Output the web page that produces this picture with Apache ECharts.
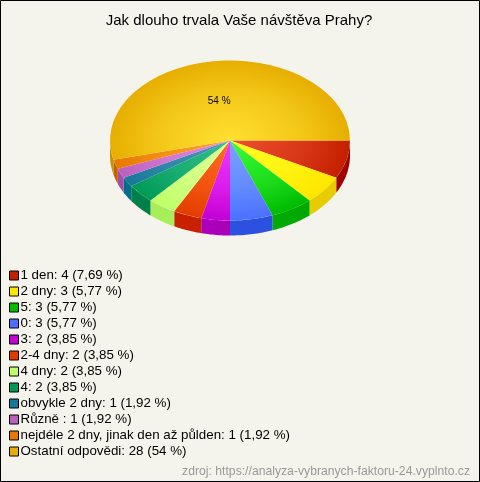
<!DOCTYPE html>
<html><head><meta charset="utf-8">
<style>html,body{margin:0;padding:0;background:#f5f4ec}#c{width:480px;height:482px}</style>
<script src="https://cdn.jsdelivr.net/npm/echarts@6/dist/echarts.min.js"></script>
</head><body><div id="c"></div>
<script>
const titleText = 'Jak dlouho trvala Vaše návštěva Prahy?';
const sourceText = 'zdroj: https://analyza-vybranych-faktoru-24.vyplnto.cz';
const categories = ['1 den','2 dny','5','0','3','2-4 dny','4 dny','4','obvykle 2 dny','Různě ','nejdéle 2 dny, jinak den až půlden','Ostatní odpovědi'];
const values = [4,3,3,3,2,2,2,2,1,1,1,28];
const shares = ['7,69 %','5,77 %','5,77 %','5,77 %','3,85 %','3,85 %','3,85 %','3,85 %','1,92 %','1,92 %','1,92 %','54 %'];
const swatch = ['#c42000','#ffe600','#00bb00','#4a70ff','#c400d4','#e43c00','#c0ff6a','#009a58','#16789a','#bc60c0','#e87800','#e6ae00'];
const inner  = ['#ee5030','#ffff20','#38ff38','#7ca4ff','#f038ff','#ff6c20','#e0ff98','#30c088','#4898b4','#e488e4','#ffa428','#ffe030'];
const wall   = ['#a00000','#e6cc00','#00aa00','#2c50e0','#aa00bb','#c82000','#a8ee58','#008048','#006f8c','#a050a4','#c46000','#c49400'];

const total = values.reduce((a,b)=>a+b,0);
const cx=230, cy=140.5, rx=120, ry=80, depth=15;
const names = categories.map((c,i)=>c+': '+values[i]+' ('+shares[i]+')');

function renderSlice(params, api){
  const idx = params.seriesIndex;
  let before = 0;
  for(let i=0;i<idx;i++) before += values[i];
  const a0 = before/total*Math.PI*2;
  const a1 = (before+api.value(0))/total*Math.PI*2;
  const children = [];
  const wa0 = Math.max(a0,0), wa1 = Math.min(a1,Math.PI);
  if(wa1>wa0){
    const top=[],bot=[];
    const steps = Math.max(2,Math.ceil((wa1-wa0)/0.02));
    for(let s=0;s<=steps;s++){
      const t=wa0+(wa1-wa0)*s/steps;
      const x=cx+rx*Math.cos(t), y=cy+ry*Math.sin(t);
      top.push([x,y]); bot.unshift([x,y+depth]);
    }
    children.push({type:'polygon',shape:{points:top.concat(bot)},style:{fill:wall[idx]}});
  }
  const midColor = echarts.color.lerp(0.5,[inner[idx],swatch[idx]]);
  children.push({type:'group',x:cx,y:cy,scaleY:ry/rx,children:[{
    type:'sector',
    shape:{cx:0,cy:0,r0:0,r:rx,startAngle:a0,endAngle:a1,clockwise:true},
    style:{fill:{type:'radial',x:0,y:0,r:rx,global:true,colorStops:[{offset:0,color:inner[idx]},{offset:0.6,color:midColor},{offset:1,color:swatch[idx]}]}}
  }]});
  if(shares[idx]==='54 %'){
    const m=(a0+a1)/2;
    children.push({type:'text',x:cx+0.75*rx*Math.cos(m),y:cy+0.5*ry*Math.sin(m),
      style:{text:shares[idx],fill:'#000',font:'10px "Liberation Sans"',align:'center',verticalAlign:'middle'}});
  }
  return {type:'group',children};
}

const chart = echarts.init(document.getElementById('c'),null,{renderer:'canvas',width:480,height:482});
chart.setOption({
  animation:false,
  backgroundColor:'#f5f4ec',
  title:[{text:titleText,left:234,top:8,textAlign:'center',textStyle:{fontFamily:'Liberation Sans',fontSize:15,fontWeight:'normal',color:'#000'}}],
  legend:{
    orient:'vertical',left:9,top:268,itemWidth:9,itemHeight:9,itemGap:1,selectedMode:false,padding:0,
    icon:'rect',
    data:names.map(n=>({name:n,icon:'rect',itemStyle:{borderColor:'#000',borderWidth:1}})),
    textStyle:{fontFamily:'Liberation Sans',fontSize:13.33,lineHeight:15,color:'#000',padding:[0,0,0,-3]}
  },
  graphic:[
    {type:'rect',silent:true,z:100,shape:{x:0.5,y:0.5,width:479,height:481},style:{fill:'none',stroke:'#000',lineWidth:1}},
    {type:'text',right:10,top:466,silent:true,style:{text:sourceText,fill:'#999',font:'12.2px "Liberation Sans"'}}
  ],
  series:names.map((n,i)=>({
    type:'custom',name:n,coordinateSystem:'none',silent:true,
    itemStyle:{color:swatch[i]},
    renderItem:renderSlice,
    data:[[values[i]]]
  }))
});
</script></body></html>
